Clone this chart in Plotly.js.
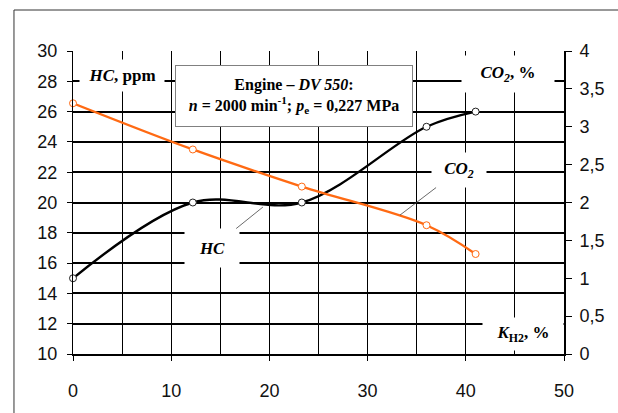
<!DOCTYPE html>
<html>
<head>
<meta charset="utf-8">
<script src="https://cdn.plot.ly/plotly-3.0.1.min.js"></script>
<style>
html,body{margin:0;padding:0;background:#fff;}
#chart{width:618px;height:413px;}
</style>
</head>
<body>
<div id="chart"></div>
<script>
// Hydrogen share K_H2, %
const kH2 = [0, 12.2, 23.3, 36, 41];
// HC emissions, ppm (left axis)
const hcPpm = [15, 20, 20, 25, 26];
// CO2, % (right axis)
const co2Pct = [3.31, 2.70, 2.21, 1.70, 1.32];

const xTicks = [0, 10, 20, 30, 40, 50];
const hcTicks = [10, 12, 14, 16, 18, 20, 22, 24, 26, 28, 30];
const co2Ticks = [0, 0.5, 1, 1.5, 2, 2.5, 3, 3.5, 4];
const co2TickText = co2Ticks.map(v => String(v).replace('.', ','));

const orange = '#ff6a13';
const serif = '"Liberation Serif", serif';
const sans = '"Liberation Sans", Arial, sans-serif';

const traces = [
  {
    x: kH2, y: hcPpm, type: 'scatter', mode: 'lines+markers', name: 'HC',
    yaxis: 'y',
    line: {color: '#000', width: 2.4, shape: 'spline', smoothing: 1},
    marker: {symbol: 'circle', size: 7, color: '#fff', line: {color: '#222', width: 1}},
    cliponaxis: false
  },
  {
    x: kH2, y: co2Pct, type: 'scatter', mode: 'lines+markers', name: 'CO2',
    yaxis: 'y2',
    line: {color: orange, width: 2.4, shape: 'spline', smoothing: 1},
    marker: {symbol: 'circle', size: 7, color: '#fff', line: {color: orange, width: 1}},
    cliponaxis: false
  }
];

const layout = {
  width: 618, height: 413,
  margin: {l: 73, r: 54, t: 51, b: 59, pad: 0},
  paper_bgcolor: '#fff', plot_bgcolor: '#fff',
  showlegend: false,
  separators: ', ',
  font: {family: sans, color: '#000'},
  xaxis: {
    range: [0, 50], tickvals: xTicks, ticks: 'outside', ticklen: 5, tickcolor: '#000', tickwidth: 1,
    ticklabelstandoff: 14,
    showline: true, linecolor: '#000', linewidth: 2,
    showgrid: true, gridcolor: '#000', gridwidth: 1, zeroline: false,
    minor: {dtick: 5, tick0: 0, showgrid: true, gridcolor: '#000', gridwidth: 1, ticks: ''},
    tickfont: {family: sans, size: 18, color: '#111'}
  },
  yaxis: {
    range: [10, 30], tickvals: hcTicks, ticks: 'outside', ticklen: 5, tickcolor: '#000', tickwidth: 1,
    ticklabelstandoff: 6,
    showline: true, linecolor: '#000', linewidth: 1,
    showgrid: true, gridcolor: '#000', gridwidth: 2, zeroline: false,
    tickfont: {family: sans, size: 18, color: '#111'}
  },
  yaxis2: {
    range: [0, 4], overlaying: 'y', side: 'right', anchor: 'x',
    tickvals: co2Ticks, ticktext: co2TickText, ticks: 'outside', ticklen: 6, tickcolor: '#000', tickwidth: 1,
    ticklabelstandoff: 4,
    showline: true, linecolor: '#000', linewidth: 2,
    showgrid: false, zeroline: false,
    tickfont: {family: sans, size: 18, color: '#111'}
  },
  yaxis3: {
    range: [0, 4], overlaying: 'y', side: 'right', anchor: 'x',
    tickvals: co2Ticks.slice(1, -1), ticks: 'inside', ticklen: 4, tickcolor: '#000', tickwidth: 1,
    showticklabels: false, showline: false, showgrid: false, zeroline: false
  },
  shapes: [
    {type: 'line', xref: 'paper', yref: 'paper', x0: -0.1202, x1: -0.1202, y0: 1.1353, y1: -0.2, line: {color: '#333', width: 1}},
    {type: 'line', xref: 'paper', yref: 'paper', x0: -0.1202, x1: 1.12, y0: 1.1353, y1: 1.1353, line: {color: '#333', width: 1}}
  ],
  annotations: [
    {
      x: 22.5, y: 27.06, xref: 'x', yref: 'y', showarrow: false,
      text: '<b>Engine – <i>DV 550</i>:</b><br><b><i>n</i> = 2000 min<sup>-1</sup>; <i>p</i><sub>e</sub> = 0,227 MPa</b>',
      font: {family: serif, size: 16, color: '#000'},
      width: 228, height: 52, borderpad: 4, bgcolor: '#fff', bordercolor: '#808080', borderwidth: 1,
      align: 'center', valign: 'middle'
    },
    {
      x: 4.95, y: 28.4, xref: 'x', yref: 'y', showarrow: false,
      text: '<b><i>HC</i>, ppm</b>',
      font: {family: serif, size: 17, color: '#000'},
      width: 72, borderpad: 6, bgcolor: '#fff'
    },
    {
      x: 44.3, y: 28.45, xref: 'x', yref: 'y', showarrow: false,
      text: '<b><i>CO<sub>2</sub></i>, %</b>',
      font: {family: serif, size: 17, color: '#000'},
      width: 78, borderpad: 7, bgcolor: '#fff'
    },
    {
      x: 45.8, y: 11.35, xref: 'x', yref: 'y', showarrow: false,
      text: '<b><i>K</i><sub>H2</sub>, %</b>',
      font: {family: serif, size: 17, color: '#000'},
      width: 70, borderpad: 5, bgcolor: '#fff'
    },
    {
      x: 33.3, y: 19.17, xref: 'x', yref: 'y', showarrow: true, arrowhead: 0, arrowwidth: 0.8, arrowcolor: '#444',
      ax: 59, ay: -45,
      text: '<b><i>CO<sub>2</sub></i></b>',
      font: {family: serif, size: 17, color: '#000'},
      width: 42, borderpad: 6, bgcolor: '#fff'
    },
    {
      x: 19.34, y: 19.7, xref: 'x', yref: 'y', showarrow: true, arrowhead: 0, arrowwidth: 0.8, arrowcolor: '#444',
      ax: -51, ay: 41,
      text: '<b><i>HC</i></b>',
      font: {family: serif, size: 17, color: '#000'},
      width: 38, height: 22, borderpad: 8, bgcolor: '#fff'
    }
  ]
};

Plotly.newPlot('chart', traces, layout, {displayModeBar: false, staticPlot: true});
</script>
</body>
</html>
